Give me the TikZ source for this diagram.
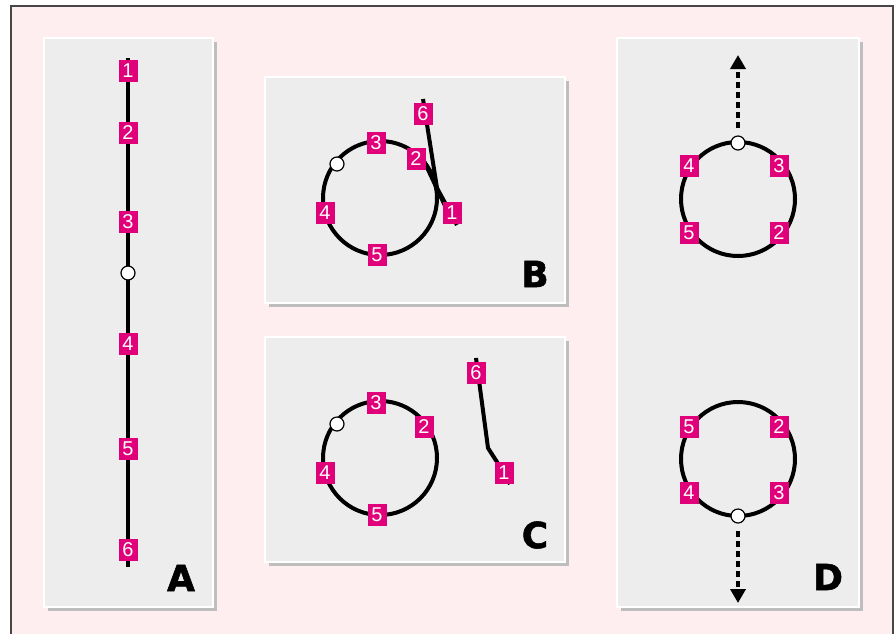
\documentclass[tikz,border=0pt]{standalone}
\usepackage{fontspec}
\setmainfont{Liberation Sans}
\newfontfamily\heavyfont[BoldFeatures={FakeBold=1.5}]{DejaVu Sans}
\usetikzlibrary{arrows.meta}
\definecolor{pinkbg}{RGB}{255,238,240}
\definecolor{panelbg}{RGB}{237,237,237}
\definecolor{shadowc}{RGB}{190,190,190}
\definecolor{tagc}{RGB}{224,0,122}
\definecolor{framec}{RGB}{70,70,70}
\newcommand\drawpanel[4]{%
  \fill[shadowc] (#1+4,#2+4) rectangle (#3+4,#4+4);
  \filldraw[fill=panelbg,draw=white,line width=1.5pt] (#1,#2) rectangle (#3,#4);}
\tikzset{
  tag/.style={fill=tagc,text=white,minimum width=19pt,minimum height=22pt,inner sep=0pt,
              font=\fontsize{20}{20}\selectfont},
  dot/.style={circle,fill=white,draw=black,line width=1.2pt,minimum size=14pt,inner sep=0pt},
  string/.style={line width=4pt,line join=round},
  loop/.style={line width=4pt},
  letter/.style={font=\heavyfont\bfseries\fontsize{36}{36}\selectfont,inner sep=0pt},
  pull/.style={line width=3.5pt,dash pattern=on 6pt off 4pt,
               -{Triangle[width=15pt,length=14pt,sep=0pt]}}
}
\begin{document}
\begin{tikzpicture}[x=1pt,y=-1pt]
\useasboundingbox (0,0) rectangle (896,633);
\fill[white] (0,0) rectangle (896,633);
\filldraw[fill=pinkbg,draw=framec,line width=1.5pt] (11,6) rectangle (893,660);
% panels
\drawpanel{44}{38}{213}{607}
\drawpanel{265}{77}{565}{303}
\drawpanel{265}{337}{565}{562}
\drawpanel{617}{38}{859}{607}

% ---------- A ----------
\coordinate (a0) at (128,58);
\coordinate (a7) at (128,567);
\draw[string] (a0) -- (a7);
\node[tag] (a1) at (128,71) {1};
\node[tag] (a2) at (128,133) {2};
\node[tag] (a3) at (128,222) {3};
\node[dot] (ad) at (128,273) {};
\node[tag] (a4) at (128,344) {4};
\node[tag] (a5) at (128,449) {5};
\node[tag] (a6) at (128,550) {6};
\node[letter] (la) at (181,578) {A};

% ---------- B ----------
\coordinate (bc) at (380,198);
\draw[loop] (bc) circle (57);
\coordinate (btop) at (423,99);
\coordinate (bbend) at (437,188);
\coordinate (bend) at (457,225);
\coordinate (barc) at (424,161);
\draw[string] (btop) -- (bbend) -- (bend);
\draw[string] (barc) -- (446,208);
\node[tag] (b6) at (423,114) {6};
\node[tag] (b3) at (376,143) {3};
\node[tag] (b2) at (416,159) {2};
\node[dot] (bd) at (337,164) {};
\node[tag] (b4) at (325,213) {4};
\node[tag] (b5) at (377,255) {5};
\node[tag] (b1) at (452,213) {1};
\node[letter] (lb) at (535,274) {B};

% ---------- C ----------
\coordinate (cc) at (380,458);
\draw[loop] (cc) circle (57);
\coordinate (ctop) at (476,358);
\coordinate (cbend1) at (488,448);
\coordinate (cbend2) at (497,462);
\coordinate (cend) at (510,484);
\draw[string] (ctop) -- (cbend1) -- (cbend2) -- (cend);
\node[tag] (c6) at (476,373) {6};
\node[tag] (c3) at (376,403) {3};
\node[tag] (c2) at (424,427) {2};
\node[dot] (cd) at (337,424) {};
\node[tag] (c4) at (325,473) {4};
\node[tag] (c5) at (377,515) {5};
\node[tag] (c1) at (504,473) {1};
\node[letter] (lc) at (535,535) {C};

% ---------- D top ----------
\coordinate (dc1) at (738,199);
\draw[loop] (dc1) circle (57);
\coordinate (dstart1) at (738,128);
\coordinate (dtip1) at (738,55);
\draw[pull] (dstart1) -- (dtip1);
\node[dot] (dd1) at (738,143) {};
\node[tag] (d14) at (689,166) {4};
\node[tag] (d13) at (779,166) {3};
\node[tag] (d15) at (689,233) {5};
\node[tag] (d12) at (779,233) {2};

% ---------- D bottom ----------
\coordinate (dc2) at (738,459);
\draw[loop] (dc2) circle (57);
\coordinate (dstart2) at (738,531);
\coordinate (dtip2) at (738,603);
\draw[pull] (dstart2) -- (dtip2);
\node[dot] (dd2) at (738,516) {};
\node[tag] (d25) at (689,427) {5};
\node[tag] (d22) at (779,427) {2};
\node[tag] (d24) at (689,493) {4};
\node[tag] (d23) at (779,493) {3};
\node[letter] (ld) at (828,577) {D};
\end{tikzpicture}
\end{document}
